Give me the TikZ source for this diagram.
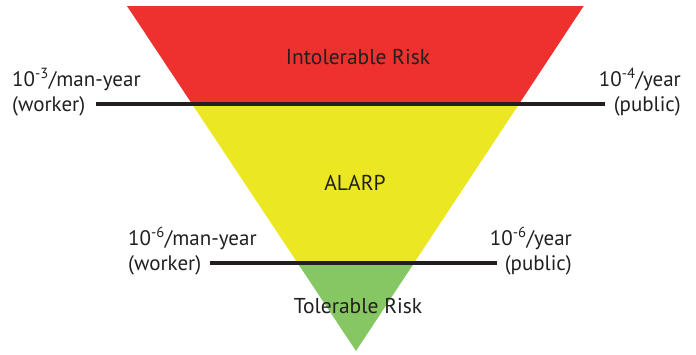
\documentclass[tikz,border=0pt]{standalone}
\usepackage{fontspec}
\setmainfont{PT Sans}
\usetikzlibrary{calc}
\definecolor{riskred}{HTML}{EE312E}
\definecolor{riskyellow}{HTML}{EBE722}
\definecolor{riskgreen}{HTML}{87C763}
\definecolor{bandline}{HTML}{231F20}
\begin{document}
\begin{tikzpicture}[x=1pt,y=-1pt,
  zone/.style={font=\fontsize{21.5}{24}\selectfont, text=bandline},
  limit/.style={font=\fontsize{21}{25}\selectfont, text=bandline, inner sep=0pt},
  divider/.style={draw=bandline, line width=3.5pt}]
\useasboundingbox (0,0) rectangle (696,354);
% triangle corners
\coordinate (tl) at (127,6);
\coordinate (tr) at (583.7,6);
\coordinate (apex) at (356,351);
% band boundaries on the triangle edges
\coordinate (l1) at ($(tl)!98/345!(apex)$);
\coordinate (r1) at ($(tr)!98/345!(apex)$);
\coordinate (l2) at ($(tl)!257/345!(apex)$);
\coordinate (r2) at ($(tr)!257/345!(apex)$);
% bands
\fill[riskred] (tl) -- (tr) -- (r1) -- (l1) -- cycle;
\fill[riskyellow] (l1) -- (r1) -- (r2) -- (l2) -- cycle;
\fill[riskgreen] (l2) -- (r2) -- (apex) -- cycle;
% zone labels
\node[zone] (intol) at (358,57) {Intolerable Risk};
\node[zone] (alarp) at (355,183) {ALARP};
\node[zone] (tol) at (358,306) {Tolerable Risk};
% upper limits
\node[limit, anchor=west, align=left] (wtop) at (12,92) {10\textsuperscript{-3}/man-year\\(worker)};
\node[limit, anchor=east, align=right] (ptop) at (681,92) {10\textsuperscript{-4}/year\\(public)};
\coordinate (a1) at (96,104);
\coordinate (b1) at (605,104);
\draw[divider] (a1) -- (b1);
% lower limits
\node[limit, anchor=west, align=left] (wbot) at (128,251) {10\textsuperscript{-6}/man-year\\(worker)};
\node[limit, anchor=east, align=right] (pbot) at (572,251) {10\textsuperscript{-6}/year\\(public)};
\coordinate (a2) at (210,263);
\coordinate (b2) at (497,263);
\draw[divider] (a2) -- (b2);
\end{tikzpicture}
\end{document}
